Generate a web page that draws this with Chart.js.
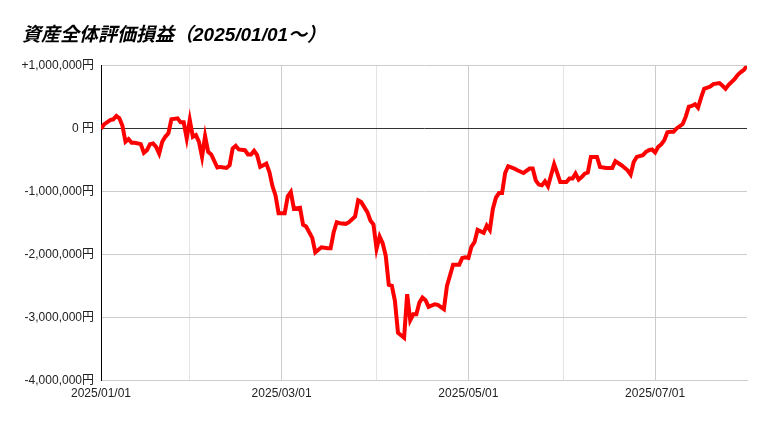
<!doctype html>
<html>
  <head>
    <meta charset="utf-8" />
    <title>資産全体評価損益</title>
    <style>
      html, body { margin: 0; background: #fff; }
    </style>
  </head>
  <body>
    <canvas id="chart" width="769" height="421"></canvas>
    <script src="https://cdn.jsdelivr.net/npm/chart.js"></script>
    <script>
      // day index counted from 2025/01/01, and the profit/loss in yen
      const rows = [
        0, 1, 3, 4, 5, 6, 7, 8, 9, 10, 11, 13, 14, 15, 16, 17, 18, 19, 20, 21, 22, 23, 25, 26, 27, 28, 29, 30,
        31, 32, 33, 34, 35, 36, 38, 39, 41, 42, 43, 44, 45, 47, 48, 49, 50, 51, 52, 53, 54, 55, 56, 57, 58, 60,
        61, 62, 63, 65, 66, 67, 69, 70, 72, 74, 75, 76, 77, 78, 80, 81, 83, 84, 85, 87, 88, 89, 90, 91, 92, 93,
        94, 95, 96, 97, 99, 100, 101, 102, 103, 104, 105, 106, 107, 109, 110, 112, 113, 115, 117, 118, 119, 120,
        121, 122, 123, 125, 126, 127, 128, 129, 130, 131, 132, 133, 135, 136, 138, 140, 141, 142, 143, 144, 145,
        146, 148, 149, 150, 152, 153, 154, 155, 156, 157, 158, 159, 160, 162, 163, 165, 167, 168, 170, 172, 173,
        174, 175, 177, 178, 179, 180, 181, 182, 183, 184, 185, 186, 187, 188, 190, 191, 192, 193, 194, 195, 196,
        197, 199, 200, 202, 203, 204, 205, 207, 208, 209, 210, 211,
      ];
      const values = [
        0, 70000, 139000, 150000, 203000, 166000, 48000, -207000, -164000, -223000, -223000, -244000, -383000,
        -340000, -244000, -233000, -287000, -393000, -207000, -128000, -73000, 150000, 166000, 102000, 102000,
        -153000, 139000, -128000, -101000, -207000, -447000, -117000, -367000, -409000, -616000, -606000,
        -622000, -579000, -313000, -271000, -329000, -340000, -409000, -409000, -351000, -420000, -606000,
        -580000, -553000, -686000, -910000, -1058000, -1341000, -1341000, -1074000, -1005000, -1270000,
        -1254000, -1526000, -1553000, -1733000, -1963000, -1883000, -1899000, -1899000, -1644000, -1484000,
        -1500000, -1510000, -1484000, -1393000, -1138000, -1165000, -1325000, -1457000, -1521000, -1909000,
        -1713000, -1819000, -2016000, -2479000, -2495000, -2734000, -3240000, -3320000, -2627000, -3042000,
        -2946000, -2946000, -2761000, -2681000, -2723000, -2830000, -2787000, -2798000, -2866000, -2495000,
        -2159000, -2159000, -2052000, -2043000, -2052000, -1872000, -1803000, -1606000, -1653000, -1537000,
        -1606000, -1270000, -1095000, -1021000, -1021000, -702000, -595000, -632000, -659000, -702000, -632000,
        -632000, -819000, -887000, -899000, -835000, -915000, -563000, -702000, -846000, -846000, -792000,
        -792000, -712000, -808000, -766000, -713000, -696000, -447000, -447000, -606000, -622000, -622000,
        -516000, -579000, -659000, -728000, -527000, -447000, -420000, -367000, -340000, -329000, -377000,
        -287000, -249000, -180000, -57000, -48000, -48000, 6000, 75000, 192000, 351000, 362000, 389000, 335000,
        495000, 634000, 670000, 709000, 725000, 682000, 634000, 698000, 793000, 857000, 900000, 937000, 1000000,
      ];

      // month boundaries on the x axis and the labels shown under them
      const monthRows = [0, 29, 59, 90, 120, 151, 181];
      const monthLabels = ["2025/01/01", "", "2025/03/01", "", "2025/05/01", "", "2025/07/01"];

      Chart.defaults.font.family = '"Liberation Sans", Arial, "Noto Sans CJK JP", sans-serif';
      Chart.defaults.color = "#222";

      function yenLabel(v) {
        if (v === 0) return "0 円";
        return (v > 0 ? "+" : "") + v.toLocaleString("en-US") + "円";
      }

      new Chart(document.getElementById("chart"), {
        type: "line",
        data: {
          datasets: [
            {
              data: rows.map((r, i) => ({ x: r, y: values[i] })),
              borderColor: "#ff0000",
              borderWidth: 4,
              pointRadius: 0,
              tension: 0,
            },
          ],
        },
        options: {
          responsive: false,
          animation: false,
          layout: { padding: { left: 22, right: 22, top: 0, bottom: 14 } },
          plugins: {
            legend: { display: false },
            tooltip: { enabled: false },
            title: {
              display: true,
              text: "資産全体評価損益（2025/01/01～）",
              align: "start",
              color: "#000",
              font: { size: 19, weight: "bold", style: "italic" },
              padding: { top: 24, bottom: 19 },
            },
          },
          scales: {
            x: {
              type: "linear",
              min: 0,
              max: 211,
              afterBuildTicks: (scale) => {
                scale.ticks = monthRows.map((v) => ({ value: v }));
              },
              ticks: {
                autoSkip: false,
                maxRotation: 0,
                padding: 6,
                font: { size: 12 },
                callback: (v) => monthLabels[monthRows.indexOf(v)] || "",
              },
              grid: {
                drawTicks: false,
                color: (ctx) => (monthLabels[monthRows.indexOf(ctx.tick.value)] ? "#cccccc" : "#e4e4e4"),
              },
              border: { color: "#cccccc" },
            },
            y: {
              min: -4000000,
              max: 1000000,
              afterFit: (scale) => {
                scale.width = 79;
              },
              ticks: {
                stepSize: 1000000,
                padding: 7,
                font: { size: 12 },
                callback: yenLabel,
              },
              grid: {
                drawTicks: false,
                color: (ctx) => (ctx.tick.value === 0 ? "#333333" : "#cccccc"),
              },
              border: { color: "#000000" },
            },
          },
        },
      });
    </script>
  </body>
</html>
